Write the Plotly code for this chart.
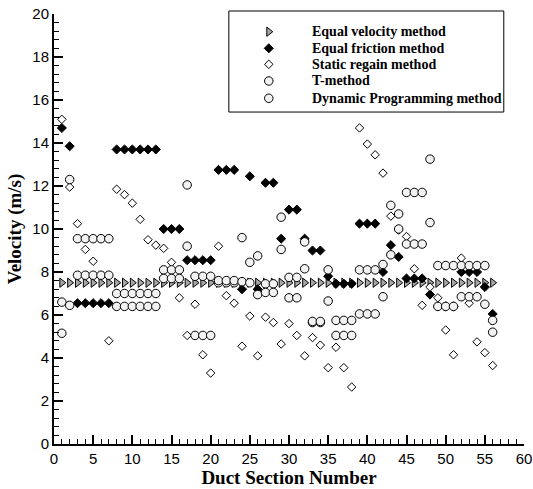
import plotly.graph_objects as go

# Duct sections 1..56
sections = list(range(1, 57))

equal_velocity = [
    7.5, 7.5, 7.5, 7.5, 7.5, 7.5, 7.5, 7.5, 7.5, 7.5,
    7.5, 7.5, 7.5, 7.5, 7.5, 7.5, 7.5, 7.5, 7.5, 7.5,
    7.5, 7.5, 7.5, 7.5, 7.5, 7.5, 7.5, 7.5, 7.5, 7.5,
    7.5, 7.5, 7.5, 7.5, 7.5, 7.5, 7.5, 7.5, 7.5, 7.5,
    7.5, 7.5, 7.5, 7.5, 7.5, 7.5, 7.5, 7.5, 7.5, 7.5,
    7.5, 7.5, 7.5, 7.5, 7.5, 7.5,
]

equal_friction = [
    14.7, 13.85, 6.55, 6.55, 6.55, 6.55, 6.55, 13.7, 13.7, 13.7,
    13.7, 13.7, 13.7, 10.0, 10.0, 10.0, 8.55, 8.55, 8.55, 8.55,
    12.75, 12.75, 12.75, 7.2, 12.45, 7.2, 12.15, 12.15, 9.55, 10.9,
    10.9, 9.55, 9.0, 9.0, 7.8, 7.45, 7.45, 7.45, 10.25, 10.25,
    10.25, 8.0, 9.25, 8.7, 7.7, 7.7, 7.7, 6.95, 6.4, 6.4,
    6.4, 8.0, 8.0, 8.0, 7.3, 6.05,
]

static_regain = [
    15.1, 11.95, 10.25, 9.05, 8.5, 7.85, 4.8, 11.85, 11.6, 11.2,
    10.45, 9.5, 9.25, 9.1, 8.45, 6.8, 5.05, 6.5, 4.15, 3.3,
    9.2, 6.9, 6.55, 4.55, 5.95, 4.1, 5.9, 5.65, 4.65, 5.6,
    5.05, 4.1, 4.95, 4.6, 3.55, 4.5, 3.55, 2.65, 14.7, 13.95,
    13.45, 12.6, 10.6, 9.95, 9.65, 8.15, 6.45, 7.3, 6.8, 5.3,
    4.15, 8.65, 6.55, 4.75, 4.25, 3.65,
]

t_method = [
    6.6, 12.3, 9.55, 9.55, 9.55, 9.55, 9.55, 7.0, 7.0, 7.0,
    7.0, 7.0, 7.0, 8.1, 8.1, 8.1, 12.05, 7.8, 7.8, 7.8,
    7.5, 7.5, 7.5, 9.6, 8.45, 8.75, 7.45, 7.45, 10.55, 7.75,
    7.75, 9.4, 5.65, 5.65, 8.1, 5.75, 5.75, 5.75, 8.1, 8.1,
    8.1, 8.35, 11.1, 10.7, 11.7, 11.7, 11.7, 13.25, 8.3, 8.3,
    8.3, 8.3, 8.3, 8.3, 8.3, 5.75,
]

dynamic_programming = [
    5.15, 6.45, 7.85, 7.85, 7.85, 7.85, 7.85, 6.4, 6.4, 6.4,
    6.4, 6.4, 6.4, 7.7, 7.7, 7.7, 9.2, 5.05, 5.05, 5.05,
    7.6, 7.6, 7.6, 7.55, 7.5, 6.95, 7.05, 7.05, 9.05, 6.8,
    6.8, 8.15, 5.7, 5.7, 6.65, 5.05, 5.05, 5.05, 6.05, 6.05,
    6.05, 6.85, 8.8, 10.0, 9.3, 9.3, 9.3, 10.3, 6.4, 6.4,
    6.4, 6.85, 6.85, 6.85, 6.5, 5.2,
]

x_ticks = [0, 5, 10, 15, 20, 25, 30, 35, 40, 45, 50, 55, 60]
y_ticks = [0, 2, 4, 6, 8, 10, 12, 14, 16, 18, 20]

series = [
    ("Equal velocity method", equal_velocity,
     dict(symbol="triangle-right", size=8, color="#a6a6a6",
          line=dict(color="black", width=1))),
    ("Equal friction method", equal_friction,
     dict(symbol="diamond", size=7, color="black",
          line=dict(color="black", width=1))),
    ("Static regain method", static_regain,
     dict(symbol="diamond", size=6.5, color="white",
          line=dict(color="black", width=1))),
    ("T-method", t_method,
     dict(symbol="circle", size=8.5, color="#f2f2f2",
          line=dict(color="black", width=1))),
    ("Dynamic Programming method", dynamic_programming,
     dict(symbol="circle", size=8.5, color="#f2f2f2",
          line=dict(color="black", width=1))),
]

fig = go.Figure()
for name, values, marker in series:
    fig.add_trace(go.Scatter(x=sections, y=values, mode="markers",
                             name=name, marker=marker, cliponaxis=False,
                             showlegend=False))

# Boxed key in the upper right, laid out on an overlay axis pair spanning [0, 1]
key_left, key_right, key_top, key_bottom = 0.372, 0.957, 1.007, 0.772
key_symbol_x = 0.457
key_text_x = 0.545
key_rows = [0.9588, 0.9202, 0.8830, 0.8442, 0.8040]

fig.add_shape(type="rect", xref="paper", yref="paper",
              x0=key_left, x1=key_right, y0=key_bottom, y1=key_top,
              line=dict(color="black", width=1), fillcolor="white", layer="below")

legend_font = dict(family="Liberation Serif, Times New Roman, serif", size=14, color="black")
for (name, _, marker), row_y in zip(series, key_rows):
    fig.add_trace(go.Scatter(x=[key_symbol_x], y=[row_y], mode="markers",
                             marker=marker, xaxis="x2", yaxis="y2",
                             showlegend=False, hoverinfo="skip", cliponaxis=False))
    fig.add_annotation(x=key_text_x, y=row_y, xref="paper", yref="paper",
                       text="<b>" + name + "</b>", showarrow=False,
                       xanchor="left", yanchor="middle", font=legend_font)

tick_font = dict(family="Liberation Sans, Arial, sans-serif", size=15, color="black")
title_font = dict(family="Liberation Serif, Times New Roman, serif", size=19, color="black")

axis_common = dict(
    showline=True, linewidth=2, linecolor="black", mirror=False,
    showgrid=False, zeroline=False, automargin=False,
    ticks="inside", ticklen=9, tickwidth=2, tickcolor="black",
    tickfont=tick_font,
)

fig.update_layout(
    width=533, height=489,
    margin=dict(l=54, r=9, t=14, b=45),
    paper_bgcolor="white", plot_bgcolor="white",
    showlegend=False,
    xaxis=dict(
        range=[0, 60], tickvals=x_ticks, ticktext=[str(v) for v in x_ticks],
        title=dict(text="<b>Duct Section Number</b>", font=title_font, standoff=4),
        minor=dict(ticks="inside", ticklen=5, tickwidth=1, tickcolor="black", dtick=1),
        **axis_common,
    ),
    yaxis=dict(
        range=[0, 20], tickvals=y_ticks, ticktext=[str(v) for v in y_ticks],
        title=dict(text="<b>Velocity (m/s)</b>", font=title_font, standoff=6),
        minor=dict(ticks="inside", ticklen=5, tickwidth=1, tickcolor="black", dtick=0.4),
        **axis_common,
    ),
    xaxis2=dict(range=[0, 1], overlaying="x", visible=False, fixedrange=True),
    yaxis2=dict(range=[0, 1], overlaying="y", visible=False, fixedrange=True),
)

fig.write_html("out.html")
